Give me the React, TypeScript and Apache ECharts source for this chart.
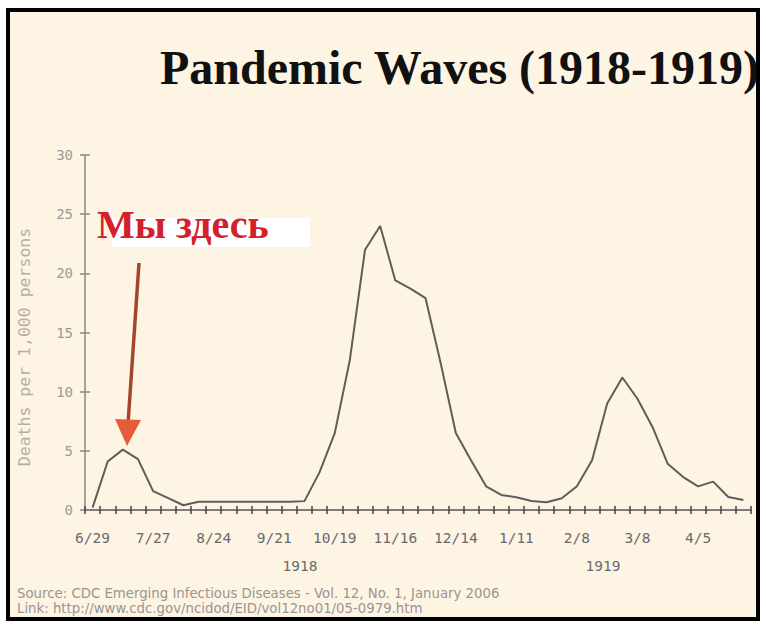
import React, { useEffect, useRef } from "react";
import * as echarts from "echarts";

const weeks = [
  "6/29", "7/6", "7/13", "7/20", "7/27", "8/3", "8/10", "8/17", "8/24", "8/31",
  "9/7", "9/14", "9/21", "9/28", "10/5", "10/12", "10/19", "10/26", "11/2", "11/9",
  "11/16", "11/23", "11/30", "12/7", "12/14", "12/21", "12/28", "1/4", "1/11", "1/18",
  "1/25", "2/1", "2/8", "2/15", "2/22", "3/1", "3/8", "3/15", "3/22", "3/29",
  "4/5", "4/12", "4/19", "4/26",
];

const deaths = [
  0.2, 4.1, 5.1, 4.3, 1.6, 1.0, 0.4, 0.7, 0.7, 0.7,
  0.7, 0.7, 0.7, 0.7, 0.75, 3.2, 6.5, 12.7, 22.0, 24.0,
  19.4, 18.7, 17.9, 12.4, 6.5, 4.2, 2.0, 1.27, 1.07, 0.76,
  0.65, 1.0, 2.0, 4.2, 9.0, 11.2, 9.4, 7.0, 3.9, 2.8,
  2.0, 2.4, 1.1, 0.85,
];

const yTicks = { min: 0, max: 30, interval: 5 };
const titleText = "Pandemic Waves (1918-1919)";
const yAxisTitle = "Deaths per 1,000 persons";
const yearLabels = ["1918", "1919"];
const annotation = "Мы здесь";
const sourceLines = [
  "Source: CDC Emerging Infectious Diseases - Vol. 12, No. 1, January 2006",
  "Link: http://www.cdc.gov/ncidod/EID/vol12no01/05-0979.htm",
];

export default function App() {
  const ref = useRef<HTMLDivElement>(null);
  useEffect(() => {
    if (!ref.current) return;
    const chart = echarts.init(ref.current, null, { renderer: "svg" });
    const mono = "DejaVu Sans Mono";
    const axisCommon = {
      type: "category" as const,
      data: weeks,
      boundaryGap: true,
      position: "bottom" as const,
    };
    chart.setOption({
      animation: false,
      backgroundColor: "#ffffff",
      grid: { left: 85, right: 15, top: 155, bottom: 118, containLabel: false },
      xAxis: [
        {
          ...axisCommon,
          axisLine: { show: true, lineStyle: { color: "#555", width: 1.5 } },
          axisTick: { show: true, length: 4, interval: 0, lineStyle: { color: "#444", width: 1.5 } },
          axisLabel: {
            show: true,
            interval: 3,
            margin: 20,
            fontFamily: mono,
            fontSize: 14.5,
            color: "#6a6a6a",
          },
          splitLine: { show: false },
        },
        {
          ...axisCommon,
          axisLine: { show: false },
          axisTick: { show: true, inside: true, length: 4, interval: 0, lineStyle: { color: "#444", width: 1.5 } },
          axisLabel: { show: false },
          splitLine: { show: false },
        },
      ],
      yAxis: [
        {
          type: "value",
          ...yTicks,
          axisLine: { show: true, lineStyle: { color: "#888", width: 1.5 } },
          axisTick: { show: true, length: 5, lineStyle: { color: "#888", width: 1.5 } },
          axisLabel: { margin: 12, fontFamily: mono, fontSize: 14, color: "#9a9a9a" },
          splitLine: { show: false },
        },
        {
          type: "value",
          ...yTicks,
          position: "left",
          axisLine: { show: false },
          axisTick: { show: true, inside: true, length: 5, lineStyle: { color: "#888", width: 1.5 } },
          axisLabel: { show: false },
          splitLine: { show: false },
        },
      ],
      series: [
        {
          type: "line",
          data: deaths,
          xAxisIndex: 0,
          yAxisIndex: 0,
          showSymbol: false,
          symbol: "none",
          lineStyle: { color: "#5e5e59", width: 2 },
          z: 3,
        },
      ],
      graphic: [
        {
          type: "rect",
          shape: { x: 8, y: 10, width: 750, height: 609 },
          style: { fill: "#fdf4e4", stroke: "#000", lineWidth: 4 },
          z: -10,
          silent: true,
        },
        {
          type: "text",
          x: 160,
          y: 43,
          style: {
            text: titleText,
            font: "bold 48px 'Liberation Serif'",
            fill: "#111",
            textVerticalAlign: "top",
          },
        },
        {
          type: "text",
          x: 24,
          y: 347,
          rotation: Math.PI / 2,
          style: {
            text: yAxisTitle,
            font: `16.5px '${mono}'`,
            fill: "#b8afa3",
            textAlign: "center",
            textVerticalAlign: "middle",
          },
        },
        {
          type: "text",
          x: 300,
          y: 566,
          style: {
            text: yearLabels[0],
            font: `14.5px '${mono}'`,
            fill: "#6a6a6a",
            textAlign: "center",
            textVerticalAlign: "middle",
          },
        },
        {
          type: "text",
          x: 603,
          y: 566,
          style: {
            text: yearLabels[1],
            font: `14.5px '${mono}'`,
            fill: "#6a6a6a",
            textAlign: "center",
            textVerticalAlign: "middle",
          },
        },
        {
          type: "rect",
          shape: { x: 112, y: 218, width: 198, height: 29 },
          style: { fill: "#ffffff" },
          z: 5,
        },
        {
          type: "text",
          x: 97,
          y: 224,
          z: 6,
          style: {
            text: annotation,
            font: "bold 40px 'Liberation Serif'",
            fill: "#d4202a",
            textVerticalAlign: "middle",
          },
        },
        {
          type: "line",
          shape: { x1: 139, y1: 263, x2: 128, y2: 424 },
          style: { stroke: "#a5432f", lineWidth: 3.5 },
          z: 6,
        },
        {
          type: "polygon",
          shape: { points: [[115, 419], [141, 420], [127, 446]] },
          style: { fill: "#e55b3c" },
          z: 6,
        },
        {
          type: "text",
          x: 17,
          y: 593,
          style: {
            text: sourceLines[0],
            font: "13.3px 'DejaVu Sans'",
            fill: "#9a9590",
            textVerticalAlign: "middle",
          },
        },
        {
          type: "text",
          x: 17,
          y: 608,
          style: {
            text: sourceLines[1],
            font: "13.3px 'DejaVu Sans'",
            fill: "#9a9590",
            textVerticalAlign: "middle",
          },
        },
      ],
    });
    return () => chart.dispose();
  }, []);
  return (
    <div
      ref={ref}
      style={{ position: "fixed", left: 0, top: 0, width: 766, height: 628 }}
    />
  );
}
